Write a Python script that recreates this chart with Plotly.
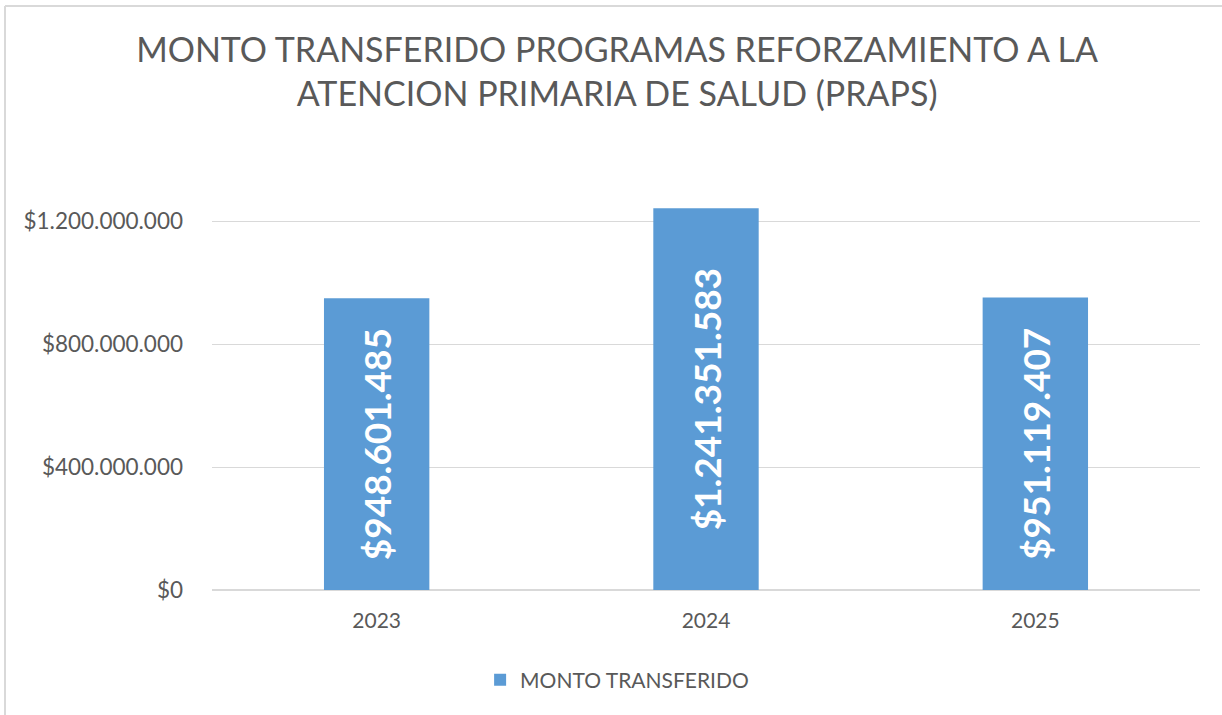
import plotly.graph_objects as go

years = ["2023", "2024", "2025"]
montos = [948601485, 1241351583, 951119407]
series_name = "MONTO TRANSFERIDO"
title_lines = ["MONTO TRANSFERIDO PROGRAMAS REFORZAMIENTO A LA",
               "ATENCION PRIMARIA DE SALUD (PRAPS)"]
tick_vals = [0, 400000000, 800000000, 1200000000]
tick_text = ["$" + f"{v:,}".replace(",", ".") for v in tick_vals]

W, H = 1222, 715
L, R, T, B = 212, 22, 200, 125

fig = go.Figure()
fig.add_trace(go.Bar(
    x=years, y=montos, name=series_name,
    marker=dict(color="#5B9BD5", line=dict(width=0)),
    texttemplate="$%{y:,.0f}", textposition="inside",
    insidetextanchor="middle", textangle=-90,
    insidetextfont=dict(family="Lato", size=37, color="white", weight="bold"),
    showlegend=True,
))

pw = W - L - R
ph = H - T - B
def px_x(p):
    return (p - L) / pw
def px_y(p):
    return (H - B - p) / ph

fig.update_layout(
    width=W, height=H,
    margin=dict(l=L, r=R, t=T, b=B),
    paper_bgcolor="white", plot_bgcolor="white",
    separators=",.",
    bargap=0.68,
    title=dict(text="<br>".join(title_lines), x=0.505, xanchor="center",
               y=1 - 62 / H, yanchor="top",
               font=dict(family="Lato", size=34, color="#595959")),
    font=dict(family="Lato", color="#595959"),
    legend=dict(orientation="h", xref="container", yref="container",
                x=0.505, xanchor="center", y=1 - 680 / H, yanchor="middle",
                font=dict(size=21, color="#595959"),
                itemwidth=30, traceorder="normal"),
    xaxis=dict(showgrid=False, showline=True, linecolor="#D9D9D9",
               tickfont=dict(size=21, color="#595959"), ticks="",
               ticklabelstandoff=12),
    yaxis=dict(range=[0, (ph) / 307.5 * 1e9], tickvals=tick_vals,
               ticktext=tick_text,
               showgrid=True, gridcolor="#D9D9D9", gridwidth=1,
               zeroline=True, zerolinecolor="#D9D9D9",
               showline=False, ticks="", ticklabelstandoff=28,
               tickfont=dict(size=22.5, color="#595959")),
    shapes=[
        dict(type="line", xref="paper", yref="paper",
             x0=px_x(5), x1=px_x(W + 10), y0=px_y(6), y1=px_y(6),
             line=dict(color="#D9D9D9", width=2)),
        dict(type="line", xref="paper", yref="paper",
             x0=px_x(5), x1=px_x(5), y0=px_y(6), y1=px_y(H + 10),
             line=dict(color="#D9D9D9", width=2)),
    ],
)

fig.write_html("out.html", config={"displayModeBar": False},
               post_script="document.body.style.margin='0';")
